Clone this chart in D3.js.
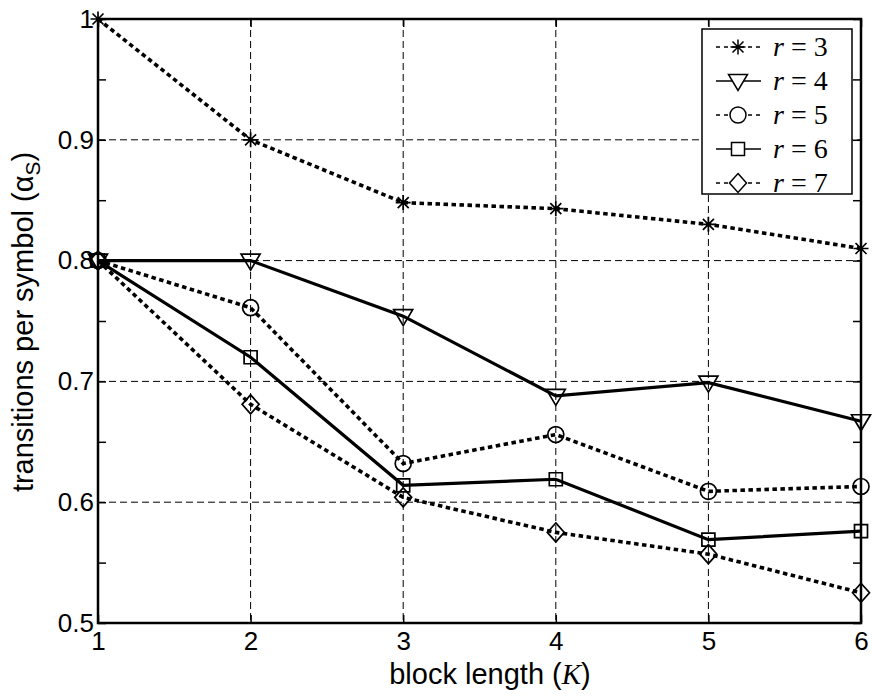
<!DOCTYPE html>
<html>
<head>
<meta charset="utf-8">
<script src="https://cdn.jsdelivr.net/npm/d3@7"></script>
<style>
    body { margin: 0; background: #fff; }
    svg { display: block; }
    .tick text { font-family: "Liberation Sans", Arial, sans-serif; font-size: 26px; fill: #000; }
    .label { font-family: "Liberation Sans", Arial, sans-serif; font-size: 29px; fill: #000; }
    .legend-text { font-family: "Liberation Serif", "Times New Roman", serif; font-size: 28px; fill: #000; }
</style>
</head>
<body>
<div id="chart"></div>
<script>
// Block length on the x axis
var blockLengths = [1, 2, 3, 4, 5, 6];

// Transitions per symbol, one list per r
var r3 = [1.0, 0.90, 0.848, 0.843, 0.830, 0.810];
var r4 = [0.80, 0.80, 0.754, 0.688, 0.699, 0.667];
var r5 = [0.80, 0.761, 0.632, 0.656, 0.609, 0.613];
var r6 = [0.80, 0.720, 0.614, 0.619, 0.569, 0.576];
var r7 = [0.80, 0.681, 0.604, 0.575, 0.557, 0.525];

var seriesNames = ["3", "4", "5", "6", "7"];
var seriesMarkers = ["star", "triangle", "circle", "square", "diamond"];
var seriesDotted = [true, false, true, false, true];

var xTicks = [1, 2, 3, 4, 5, 6];
var xTickLabels = ["1", "2", "3", "4", "5", "6"];
var yTicks = [0.5, 0.6, 0.7, 0.8, 0.9, 1.0];
var yTickLabels = ["0.5", "0.6", "0.7", "0.8", "0.9", "1"];

var width = 872, height = 696;
var margin = { top: 19, right: 11, bottom: 73, left: 98 };
var plotW = width - margin.left - margin.right;
var plotH = height - margin.top - margin.bottom;

var svg = d3.select("#chart").append("svg")
    .attr("width", width)
    .attr("height", height);

var g = svg.append("g")
    .attr("transform", "translate(" + margin.left + "," + margin.top + ")");

var x = d3.scaleLinear().domain([1, 6]).range([0, plotW]);
var y = d3.scaleLinear().domain([0.5, 1]).range([plotH, 0]);

// Dashed grid on the inner ticks
g.append("g").selectAll("line.gx")
    .data(xTicks.slice(1, -1))
    .enter().append("line")
    .attr("x1", function(d) { return x(d); })
    .attr("x2", function(d) { return x(d); })
    .attr("y1", 0).attr("y2", plotH)
    .attr("stroke", "#000").attr("stroke-width", 1)
    .attr("stroke-dasharray", "7,4");

g.append("g").selectAll("line.gy")
    .data(yTicks.slice(1, -1))
    .enter().append("line")
    .attr("x1", 0).attr("x2", plotW)
    .attr("y1", function(d) { return y(d); })
    .attr("y2", function(d) { return y(d); })
    .attr("stroke", "#000").attr("stroke-width", 1)
    .attr("stroke-dasharray", "7,4");

// Axes with ticks pointing inwards
var xAxis = d3.axisBottom(x)
    .tickValues(xTicks)
    .tickFormat(function(d, i) { return xTickLabels[i]; })
    .tickSizeInner(-8).tickSizeOuter(0).tickPadding(9);

var yAxis = d3.axisLeft(y)
    .tickValues(d3.range(0.5, 1.0001, 0.05))
    .tickFormat(function(d) {
        var i = yTicks.findIndex(function(t) { return Math.abs(t - d) < 1e-6; });
        return i < 0 ? "" : yTickLabels[i];
    })
    .tickSizeInner(-8).tickSizeOuter(0).tickPadding(4);

g.append("g")
    .attr("transform", "translate(0," + plotH + ")")
    .call(xAxis);

g.append("g").call(yAxis);

// Ticks on the top and right edges too
g.append("g")
    .call(d3.axisTop(x).tickValues(xTicks).tickFormat("").tickSizeInner(-8).tickSizeOuter(0));

g.append("g")
    .attr("transform", "translate(" + plotW + ",0)")
    .call(d3.axisRight(y).tickValues(d3.range(0.5, 1.0001, 0.05)).tickFormat("").tickSizeInner(-8).tickSizeOuter(0));

g.selectAll(".domain").remove();
g.selectAll(".tick line").attr("stroke", "#000").attr("stroke-width", 1.5);

// Plot frame
g.append("rect")
    .attr("width", plotW).attr("height", plotH)
    .attr("fill", "none").attr("stroke", "#000").attr("stroke-width", 2.5);

// Series
var series = [r3, r4, r5, r6, r7].map(function(vals, i) {
    return {
        name: seriesNames[i],
        marker: seriesMarkers[i],
        dotted: seriesDotted[i],
        points: vals.map(function(v, j) { return { k: blockLengths[j], v: v }; })
    };
});

var line = d3.line()
    .x(function(d) { return x(d.k); })
    .y(function(d) { return y(d.v); });

// Path string for a marker centred on 0,0
function markerPath(type) {
    var p = d3.path();
    if (type === "star") {
        var s = 7.5, t = 5.5;
        p.moveTo(-s, 0); p.lineTo(s, 0);
        p.moveTo(0, -s); p.lineTo(0, s);
        p.moveTo(-t, -t); p.lineTo(t, t);
        p.moveTo(-t, t); p.lineTo(t, -t);
    } else if (type === "triangle") {
        p.moveTo(-9.5, -6.5); p.lineTo(9.5, -6.5); p.lineTo(0, 9.5); p.closePath();
    } else if (type === "circle") {
        p.moveTo(8, 0); p.arc(0, 0, 8, 0, 2 * Math.PI);
    } else if (type === "square") {
        p.rect(-6.5, -6.5, 13, 13);
    } else if (type === "diamond") {
        p.moveTo(0, -9.5); p.lineTo(8.5, 0); p.lineTo(0, 9.5); p.lineTo(-8.5, 0); p.closePath();
    }
    return p.toString();
}

var sg = g.selectAll("g.series")
    .data(series)
    .enter().append("g")
    .attr("class", "series");

sg.append("path")
    .attr("d", function(d) { return line(d.points); })
    .attr("fill", "none")
    .attr("stroke", "#000")
    .attr("stroke-width", function(d) { return d.dotted ? 3.6 : 3.2; })
    .attr("stroke-dasharray", function(d) { return d.dotted ? "4.5,3.5" : null; });

sg.each(function(s) {
    d3.select(this).selectAll("path.marker")
        .data(s.points)
        .enter().append("path")
        .attr("class", "marker")
        .attr("transform", function(d) { return "translate(" + x(d.k) + "," + y(d.v) + ")"; })
        .attr("d", markerPath(s.marker))
        .attr("fill", "none")
        .attr("stroke", "#000")
        .attr("stroke-width", 1.7);
});

// Legend
var legend = svg.append("g").attr("transform", "translate(702,29)");

legend.append("rect")
    .attr("width", 150).attr("height", 165)
    .attr("fill", "#fff").attr("stroke", "#000").attr("stroke-width", 1.5);

var items = legend.selectAll("g.item")
    .data(series)
    .enter().append("g")
    .attr("class", "item")
    .attr("transform", function(d, i) { return "translate(0," + (18 + i * 34) + ")"; });

items.append("line")
    .attr("x1", 14).attr("x2", 59)
    .attr("stroke", "#000").attr("stroke-width", 1.6)
    .attr("stroke-dasharray", function(d) { return d.dotted ? "4,4" : null; });

items.append("path")
    .attr("transform", "translate(36,0)")
    .attr("d", function(d) { return markerPath(d.marker); })
    .attr("fill", "#fff")
    .attr("stroke", "#000").attr("stroke-width", 1.5);

var lt = items.append("text")
    .attr("class", "legend-text")
    .attr("x", 71).attr("y", 9);
lt.append("tspan").attr("font-style", "italic").text("r");
lt.append("tspan").text(function(d) { return " = " + d.name; });

// Axis labels
var xl = svg.append("text")
    .attr("class", "label")
    .attr("x", 490).attr("y", 684)
    .attr("text-anchor", "middle");
xl.append("tspan").text("block length (");
xl.append("tspan")
    .attr("font-family", "'Liberation Serif', 'Times New Roman', serif")
    .attr("font-style", "italic").text("K");
xl.append("tspan").text(")");

var yl = svg.append("text")
    .attr("class", "label")
    .attr("transform", "translate(33,322) rotate(-90)")
    .attr("text-anchor", "middle");
yl.append("tspan").text("transitions per symbol  (\u03b1");
yl.append("tspan").attr("dy", 7).attr("font-size", "21px").text("S");
yl.append("tspan").attr("dy", -7).text(")");
</script>
</body>
</html>
